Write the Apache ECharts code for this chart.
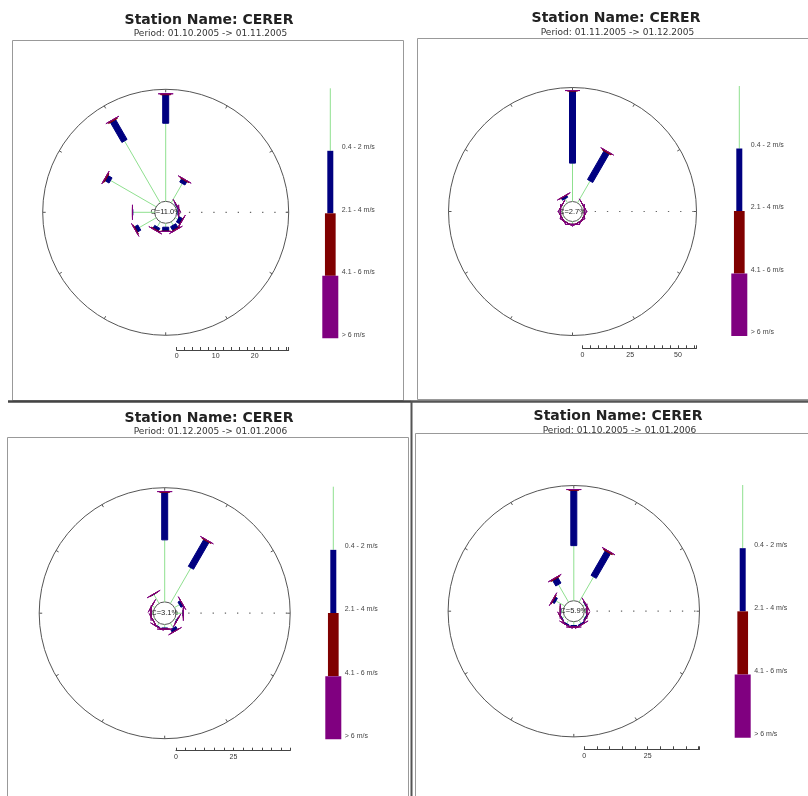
<!DOCTYPE html>
<html><head><meta charset="utf-8">
<script src="https://cdn.jsdelivr.net/npm/echarts@6/dist/echarts.min.js"></script>
<style>html,body{margin:0;padding:0;background:#fff}#c{width:808px;height:796px}</style>
</head><body><div id="c"></div>
<script>
// ---------- data ----------
const directions = [0, 30, 60, 90, 120, 150, 180, 210, 240, 270, 300, 330];
const speedClasses = ['0.4 - 2 m/s', '2.1 - 4 m/s', '4.1 - 6 m/s', '> 6 m/s'];
const stationTitle = 'Station Name: CERER';
const periods = [
  'Period: 01.10.2005 -> 01.11.2005',
  'Period: 01.11.2005 -> 01.12.2005',
  'Period: 01.12.2005 -> 01.01.2006',
  'Period: 01.10.2005 -> 01.01.2006'
];
const calms = [11.0, 2.7, 3.1, 5.9];
const scaleMax = [28.7, 59.7, 49.7, 45.4];
const scaleLabelStep = [10, 25, 25, 25];
const scaleTickStep = [2, 25 / 6, 25 / 6, 5];

// frequency (%) per direction and speed class
const oct05Class1 = [20.0, 5.7, 0.3, 0.3, 0.8, 1.0, 1.0, 1.5, 5.0, 5.6, 13.5, 18.3];
const oct05Class2 = [7.3, 1.0, 0.2, 0.2, 1.0, 1.2, 1.0, 0.8, 1.0, 0.1, 1.2, 5.9];
const oct05Class3 = [0.25, 0.2, 0, 0, 0.1, 0.2, 0.1, 0.2, 0.2, 0, 0.3, 0.3];
const oct05Class4 = [0, 0, 0, 0, 0, 0, 0, 0, 0, 0, 0, 0];

const nov05Class1 = [20.1, 13.2, 1.2, 1.0, 1.2, 1.3, 1.5, 1.3, 1.2, 1.0, 1.2, 2.5];
const nov05Class2 = [37.7, 17.3, 0, 0, 0, 0, 0, 0, 0, 0, 0, 1.2];
const nov05Class3 = [0.3, 0.6, 0, 0, 0, 0, 0, 0, 0, 0, 0, 0.2];
const nov05Class4 = [0, 0, 0, 0, 0, 0, 0, 0, 0, 0, 0, 0];

const dec05Class1 = [27.0, 17.9, 2.5, 3.0, 1.0, 2.5, 1.5, 1.5, 1.0, 1.0, 1.5, 4.5];
const dec05Class2 = [20.7, 13.5, 1.2, 0.2, 0.3, 1.5, 0.5, 0.3, 0, 0, 0, 0.1];
const dec05Class3 = [0.3, 0.4, 0.1, 0, 0, 0.1, 0, 0, 0, 0, 0, 0.1];
const dec05Class4 = [0, 0, 0, 0, 0, 0, 0, 0, 0, 0, 0, 0];

const totalClass1 = [21.7, 11.5, 1.0, 0.8, 1.0, 1.5, 1.5, 1.5, 1.2, 1.0, 4.0, 8.0];
const totalClass2 = [21.8, 11.2, 0.3, 0.2, 0.4, 0.5, 0.6, 0.5, 0.3, 0.2, 1.0, 2.5];
const totalClass3 = [0.3, 0.5, 0, 0, 0, 0, 0, 0, 0, 0, 0.3, 0.4];
const totalClass4 = [0, 0, 0, 0, 0, 0, 0, 0, 0, 0, 0, 0];

const panelClasses = [
  [oct05Class1, oct05Class2, oct05Class3, oct05Class4],
  [nov05Class1, nov05Class2, nov05Class3, nov05Class4],
  [dec05Class1, dec05Class2, dec05Class3, dec05Class4],
  [totalClass1, totalClass2, totalClass3, totalClass4]
];

// ---------- styling / layout ----------
const CLASS_COLORS = ['#8fe08f', '#000080', '#800000', '#800080'];
const ROSE_WIDTHS = [1, 6, 10, 15];
const LEGEND_WIDTHS = [1, 6, 10.7, 16];
const panels = [
  {cx: 165.7, cy: 212.3, R: 123, calmPx: 11, scaleY: 350, legX: 330.3, legTop: 88.3, legBot: 338.3, titleX: 209, titleY: 20, subY: 33.5},
  {cx: 572.5, cy: 211.5, R: 124, calmPx: 10, scaleY: 348.3, legX: 739.3, legTop: 86, legBot: 336, titleX: 616, titleY: 18.5, subY: 32.5},
  {cx: 164.7, cy: 613.2, R: 125.5, calmPx: 11.3, scaleY: 750.7, legX: 333.3, legTop: 486.7, legBot: 739.3, titleX: 209, titleY: 418.5, subY: 432},
  {cx: 573.8, cy: 611.2, R: 125.7, calmPx: 10.5, scaleY: 749.3, legX: 742.7, legTop: 485, legBot: 737.7, titleX: 618, titleY: 416.5, subY: 430.5}
];

function roseRender(params, api) {
  const ang = api.value(1);
  const vals = [api.value(2), api.value(3), api.value(4), api.value(5)];
  const o = api.coord([0, ang]);
  const far = api.coord([1, ang]);
  let dx = far[0] - o[0], dy = far[1] - o[1];
  const L = Math.hypot(dx, dy) || 1; dx /= L; dy /= L;
  const nx = -dy, ny = dx;
  const children = [];
  let cum = 0;
  vals.forEach((v, s) => {
    const a = api.coord([cum, ang]);
    cum += v;
    const b = api.coord([cum, ang]);
    const w = ROSE_WIDTHS[s] / 2;
    if (s === 0) {
      children.push({type: 'line', shape: {x1: a[0], y1: a[1], x2: b[0], y2: b[1]},
        style: {stroke: CLASS_COLORS[0], lineWidth: 1}});
    } else {
      children.push({type: 'polygon', shape: {points: [
        [a[0] + nx * w, a[1] + ny * w], [b[0] + nx * w, b[1] + ny * w],
        [b[0] - nx * w, b[1] - ny * w], [a[0] - nx * w, a[1] - ny * w]]},
        style: {fill: CLASS_COLORS[s], stroke: CLASS_COLORS[s], lineWidth: 1}});
    }
  });
  return {type: 'group', children};
}

function calmRender(params, api) {
  const cs = params.coordSys;
  const p0 = api.coord([0, 90]);
  const pEnd = api.coord([api.value(3), 90]);
  const r = Math.hypot(p0[0] - cs.cx, p0[1] - cs.cy);
  return {type: 'group', children: [
    {type: 'line', shape: {x1: p0[0], y1: p0[1], x2: pEnd[0], y2: pEnd[1]},
      style: {stroke: '#666', lineWidth: 1.2, lineDash: [1.3, 10.9]}},
    {type: 'circle', shape: {cx: cs.cx, cy: cs.cy, r: r},
      style: {fill: 'rgba(255,255,255,0.6)', stroke: '#555', lineWidth: 1}},
    {type: 'text', style: {text: 'C=' + api.value(2).toFixed(1) + '%', x: cs.cx, y: cs.cy,
      align: 'center', verticalAlign: 'middle', font: '7.5px "Liberation Sans", Arial, sans-serif', fill: '#222'}}
  ]};
}

function legendRender(params, api) {
  const k = api.value(1);
  const a = api.coord([0, k]);
  const b = api.coord([0, k + 1]);
  const w = LEGEND_WIDTHS[k];
  const children = [];
  if (k === 0) {
    children.push({type: 'line', shape: {x1: a[0], y1: a[1], x2: b[0], y2: b[1]}, style: {stroke: CLASS_COLORS[0], lineWidth: 1}});
  } else {
    children.push({type: 'rect', shape: {x: a[0] - w / 2, y: a[1], width: w, height: b[1] - a[1]}, style: {fill: CLASS_COLORS[k]}});
  }
  children.push({type: 'text', style: {text: speedClasses[k], x: a[0] + 11.5, y: b[1] - 3.5,
    align: 'left', verticalAlign: 'middle', font: '7px "Liberation Sans", Arial, sans-serif', fill: '#444'}});
  return {type: 'group', children};
}

const option = {
  animation: false,
  backgroundColor: '#fff',
  polar: [], angleAxis: [], radiusAxis: [],
  grid: [], xAxis: [], yAxis: [], series: [], graphic: []
};

// frames
const frameStyle = {stroke: '#999', lineWidth: 1, fill: 'none'};
option.graphic.push(
  {type: 'rect', shape: {x: 12.5, y: 40.5, width: 391, height: 360}, style: frameStyle, silent: true},
  {type: 'rect', shape: {x: 417.5, y: 38.5, width: 391, height: 361}, style: frameStyle, silent: true},
  {type: 'rect', shape: {x: 7.5, y: 437.5, width: 401, height: 370}, style: frameStyle, silent: true},
  {type: 'rect', shape: {x: 415.5, y: 433.5, width: 400, height: 370}, style: frameStyle, silent: true},
  {type: 'line', shape: {x1: 8, y1: 401.5, x2: 411, y2: 401.5}, style: {stroke: '#444', lineWidth: 2.5}, silent: true},
  {type: 'line', shape: {x1: 411, y1: 401.5, x2: 808, y2: 401.5}, style: {stroke: '#555', lineWidth: 2.5}, silent: true},
  {type: 'line', shape: {x1: 411.5, y1: 401, x2: 411.5, y2: 796}, style: {stroke: '#555', lineWidth: 2}, silent: true}
);

panels.forEach((p, i) => {
  const rmax = scaleMax[i];
  const rmin = -p.calmPx * rmax / (p.R - p.calmPx);
  option.polar.push({center: [p.cx, p.cy], radius: p.R});
  option.angleAxis.push({
    polarIndex: i, type: 'value', min: 0, max: 360, interval: 30, startAngle: 90, clockwise: true,
    axisLine: {show: true, lineStyle: {color: '#555', width: 1}},
    axisTick: {show: true, inside: true, length: 3, lineStyle: {color: '#555'}},
    axisLabel: {show: false}, splitLine: {show: false}, silent: true
  });
  option.radiusAxis.push({polarIndex: i, type: 'value', min: rmin, max: rmax, show: false,
    axisLine: {show: false}, axisTick: {show: false}, axisLabel: {show: false}, splitLine: {show: false}});

  const cls = panelClasses[i];
  const roseData = directions.map((d, k) => [cls[0][k] + cls[1][k] + cls[2][k] + cls[3][k], d, cls[0][k], cls[1][k], cls[2][k], cls[3][k]]);
  option.series.push({type: 'custom', coordinateSystem: 'polar', polarIndex: i, silent: true, z: 2,
    data: [[0, 90, calms[i], rmax]], renderItem: calmRender});
  option.series.push({type: 'custom', coordinateSystem: 'polar', polarIndex: i, silent: true, z: 3,
    data: roseData, renderItem: roseRender});

  // scale bar
  const gScale = option.grid.length;
  option.grid.push({left: p.cx + p.calmPx, width: p.R - p.calmPx, top: p.scaleY - 10, height: 10, containLabel: false});
  const step = scaleLabelStep[i];
  option.xAxis.push({gridIndex: gScale, type: 'value', min: 0, max: rmax, interval: scaleTickStep[i], position: 'bottom',
    axisLine: {show: true, lineStyle: {color: '#444', width: 1}},
    axisTick: {show: true, inside: true, length: 3, lineStyle: {color: '#444'}},
    axisLabel: {show: true, margin: 3, fontSize: 7, color: '#333', fontFamily: 'Liberation Sans, Arial, sans-serif',
      formatter: v => (Math.abs(v / step - Math.round(v / step)) < 1e-3 ? String(Math.round(v)) : '')},
    splitLine: {show: false}});
  option.yAxis.push({gridIndex: gScale, type: 'value', show: false, min: 0, max: 1});

  // legend column
  const gLeg = option.grid.length;
  option.grid.push({left: p.legX - 20, width: 40, top: p.legTop, height: p.legBot - p.legTop});
  option.xAxis.push({gridIndex: gLeg, type: 'value', min: -1, max: 1, show: false});
  option.yAxis.push({gridIndex: gLeg, type: 'value', min: 0, max: 4, inverse: true, show: false});
  option.series.push({type: 'custom', coordinateSystem: 'cartesian2d', xAxisIndex: gLeg, yAxisIndex: gLeg, silent: true,
    data: speedClasses.map((n, k) => [0, k]), renderItem: legendRender});

  // titles
  option.graphic.push(
    {type: 'text', x: p.titleX, y: p.titleY, silent: true,
      style: {text: stationTitle, font: 'bold 14px "DejaVu Sans", sans-serif', fill: '#222',
        align: 'center', verticalAlign: 'middle', textAlign: 'center', textVerticalAlign: 'middle'}},
    {type: 'text', x: p.titleX + 1.5, y: p.subY, silent: true,
      style: {text: periods[i], font: '9px "DejaVu Sans", sans-serif', fill: '#333',
        align: 'center', verticalAlign: 'middle', textAlign: 'center', textVerticalAlign: 'middle'}}
  );
});

const chart = echarts.init(document.getElementById('c'), null, {renderer: 'canvas'});
chart.setOption(option);
</script>
</body></html>
